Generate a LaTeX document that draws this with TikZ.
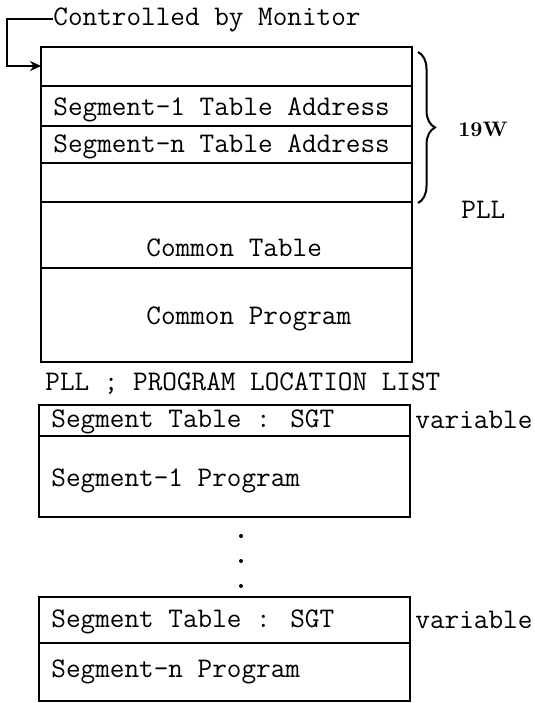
\documentclass[tikz,border=0pt]{standalone}
\usepackage{fontspec}
\usetikzlibrary{arrows.meta,decorations.pathreplacing}

\begin{document}
\begin{tikzpicture}[x=0.5pt,y=-0.5pt,
    txt/.style={font=\ttfamily\fontsize{14.2}{17}\selectfont,anchor=base west,inner sep=0pt},
    frame/.style={line width=1pt},
    dot/.style={circle,fill,inner sep=0pt,minimum size=2pt}]
                \useasboundingbox (0,0) rectangle (535,703);

                % main area with the table rows
                \draw[frame] (41,47) rectangle (412,362);
                \foreach \y in {86,126,163,202,268}
                    \draw[frame] (41,\y) -- (412,\y);

                \node[txt] (ctl) at (53,25) {Controlled by Monitor};
                \coordinate (entry) at (41,66);
                \draw[frame,-{Stealth[length=5.5pt,width=5pt]}] (ctl.west) -- ++(-46,0) |- (entry);

                \node[txt] (seg1addr) at (53,115) {Segment-1 Table Address};
                \node[txt] (segnaddr) at (53,152) {Segment-n Table Address};
                \node[txt] (ctab)     at (146,256) {Common Table};
                \node[txt] (cprog)    at (146,324) {Common Program};

                % brace over the first rows
                \draw[frame,decorate,decoration={brace,amplitude=8.5pt}] (418,52) -- (418,203);
                \node[font=\rmfamily\bfseries\fontsize{10.5}{12}\selectfont,anchor=base west,inner sep=0pt] (words) at (458,136) {19W};
                \node[txt] (pll) at (461,218) {PLL};

                \node[txt] (pllnote) at (45,390) {PLL ; PROGRAM LOCATION LIST};

                % segment 1
                \draw[frame] (39,405) rectangle (410,517);
                \draw[frame] (39,436) -- (410,436);
                \node[txt] (sgt1)     at (51,427) {Segment Table : SGT};
                \node[txt] (seg1prog) at (51,486) {Segment-1 Program};
                \node[txt] (var1)     at (415,428) {variable};

                \foreach \y [count=\i] in {536,561,586}
                    \node[dot] (dot\i) at (241,\y) {};

                % segment n
                \draw[frame] (39,597) rectangle (410,701);
                \draw[frame] (39,643) -- (410,643);
                \node[txt] (sgtn)     at (51,627) {Segment Table : SGT};
                \node[txt] (segnprog) at (51,677) {Segment-n Program};
                \node[txt] (varn)     at (415,628) {variable};
\end{tikzpicture}
\end{document}
